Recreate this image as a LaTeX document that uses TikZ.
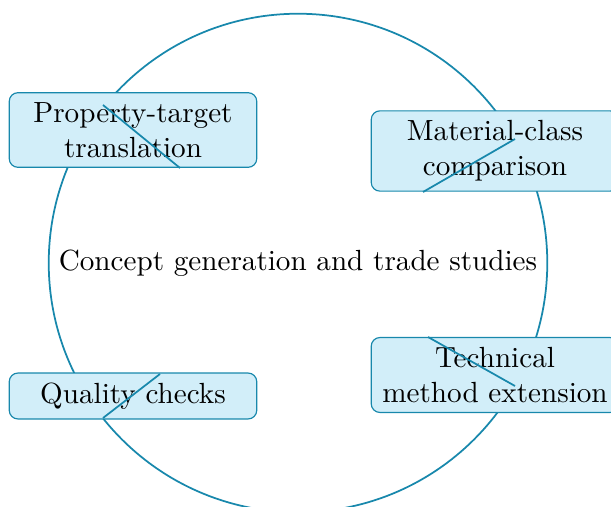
\documentclass[tikz,border=0pt]{standalone}
\usepackage{tikz}
\usetikzlibrary{positioning}
\definecolor{loopblue}{RGB}{24,136,172}
\definecolor{boxfill}{RGB}{210,238,249}
\tikzset{
    x=0.343pt, y=-0.343pt, % one unit is one pixel of the layout
    stage/.style={draw=loopblue, fill=boxfill, rounded corners=3pt, text width=2.75cm, align=center}, % the boxes on the loop
    loop ring/.style={draw=loopblue, semithick, circle, minimum size=171pt, inner sep=0pt}, % the big circle
    link/.style={loopblue, semithick}, % the strokes across the boxes
}
\begin{document}
\begin{tikzpicture}
    \useasboundingbox (0,0) rectangle (611,507);
    \node[loop ring] (core) at (298,263) {Concept generation and trade studies};
    \node[stage] (target) at (133,130) {Property-target\\translation};
    \node[stage] (classes) at (495,151) {Material-class\\comparison};
    \node[stage] (checks) at (133,396) {Quality checks};
    \node[stage] (method) at (495,375) {Technical\\method extension};
    \coordinate (t1) at (103,105);
    \coordinate (t2) at (180,168);
    \coordinate (c1) at (515,139);
    \coordinate (c2) at (423,192);
    \coordinate (q1) at (160,374);
    \coordinate (q2) at (103,418);
    \coordinate (m1) at (428,337);
    \coordinate (m2) at (515,386);
    \draw[link] (t1) -- (t2);
    \draw[link] (c1) -- (c2);
    \draw[link] (q1) -- (q2);
    \draw[link] (m1) -- (m2);
\end{tikzpicture}
\end{document}
